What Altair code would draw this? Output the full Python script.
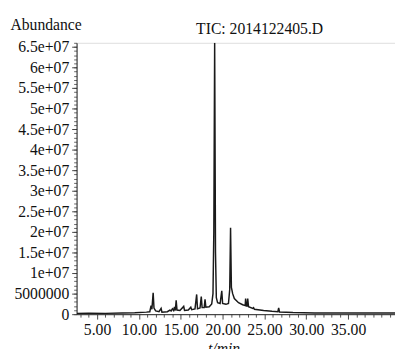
import altair as alt
import pandas as pd

# Retention time (min) and abundance
times = [2.6, 4.0, 6.0, 8.0, 9.5, 10.9, 11.3, 11.45, 11.55, 11.7, 11.8, 12.0, 12.4,
         12.65, 12.75, 13.4, 13.7, 13.85, 14.0, 14.15, 14.25, 14.35, 14.45, 14.55,
         14.9, 15.35, 15.45, 15.9, 16.2, 16.3, 16.7, 16.9, 17.0, 17.3, 17.45, 17.55,
         17.8, 17.9, 18.0, 18.4, 18.7, 18.85, 18.95, 19.05, 19.15, 19.25, 19.4, 19.7,
         19.9, 20.0, 20.4, 20.7, 20.85, 20.95, 21.05, 21.2, 21.4, 21.9, 22.4, 22.7,
         22.75, 22.85, 22.95, 23.0, 23.1, 23.6, 23.7, 23.8, 24.9, 25.9, 26.6, 26.7,
         26.8, 28.4, 31.0, 35.0, 40.6]
abundance = [0.2e6, 0.25e6, 0.2e6, 0.3e6, 0.35e6, 0.5e6, 0.6e6, 2.1e6, 1.2e6, 5.2e6,
             1.5e6, 0.8e6, 0.6e6, 1.4e6, 0.5e6, 0.6e6, 1.0e6, 0.8e6, 1.3e6, 0.9e6,
             1.8e6, 0.9e6, 3.4e6, 1.0e6, 0.9e6, 1.9e6, 0.9e6, 1.0e6, 1.7e6, 1.1e6,
             1.3e6, 4.8e6, 1.3e6, 1.5e6, 4.3e6, 1.6e6, 1.6e6, 3.6e6, 1.7e6, 1.8e6,
             2.5e6, 5.0e6, 20e6, 66e6, 15e6, 4.0e6, 2.8e6, 2.6e6, 5.7e6, 2.6e6,
             2.4e6, 2.6e6, 6.0e6, 21e6, 6.5e6, 5.0e6, 3.8e6, 2.8e6, 2.3e6, 2.1e6,
             3.8e6, 2.0e6, 2.0e6, 3.8e6, 1.8e6, 1.4e6, 1.6e6, 1.2e6, 0.9e6, 0.7e6,
             0.6e6, 1.5e6, 0.55e6, 0.4e6, 0.3e6, 0.3e6, 0.3e6]

x_major = [5, 10, 15, 20, 25, 30, 35]
x_minor = [3, 4, 6, 7, 8, 9, 11, 12, 13, 14, 16, 17, 18, 19, 21, 22, 23, 24, 26, 27,
           28, 29, 31, 32, 33, 34, 36, 37, 38, 39, 40]
y_major = [0, 5e6, 10e6, 15e6, 20e6, 25e6, 30e6, 35e6, 40e6, 45e6, 50e6, 55e6,
           60e6, 65e6]
y_minor = [v * 1e6 for v in range(0, 67)]

df = pd.DataFrame({"t": times, "a": abundance})

FONT = "Liberation Serif, Times New Roman, serif"
xs = alt.Scale(domain=[2.55, 40.6], nice=False, zero=False)
ys = alt.Scale(domain=[0, 66e6], nice=False)

main = alt.Chart(df).mark_line(color="#1a1a1a", strokeWidth=1.5, clip=True).encode(
    x=alt.X("t:Q", scale=xs,
            axis=alt.Axis(orient="bottom", values=x_major, format=".2f", grid=False,
                          tickSize=5, labelPadding=3, tickColor="#444",
                          domainColor="#222", labelFont=FONT, labelFontSize=16,
                          labelColor="#111", labelFlush=False,
                          title="t/min", titleFont=FONT, titleFontSize=16,
                          titleFontWeight="normal", titleFontStyle="italic",
                          titleColor="#111",
                          titleX=150, titleY=40, titleAlign="center",
                          titleBaseline="alphabetic")),
    y=alt.Y("a:Q", scale=ys,
            axis=alt.Axis(orient="left", values=y_major, grid=False, tickSize=5,
                          labelPadding=3, tickColor="#444", domainColor="#222",
                          labelFont=FONT, labelFontSize=16, labelColor="#111",
                          labelFlush=False,
                          labelExpr="datum.value < 1e7 ? format(datum.value, 'd') : replace(format(datum.value, '.2~e'), 'e+', 'e+0')",
                          title="Abundance", titleFont=FONT, titleFontSize=16,
                          titleFontWeight="normal", titleColor="#111",
                          titleAngle=0, titleAlign="left",
                          titleBaseline="alphabetic", titleX=-68, titleY=-14)),
)

minor = alt.Chart(df).mark_line(opacity=0).encode(
    x=alt.X("t:Q", scale=xs,
            axis=alt.Axis(orient="bottom", values=x_minor, labels=False, grid=False,
                          tickSize=3, tickColor="#555", domain=False, title=None)),
    y=alt.Y("a:Q", scale=ys,
            axis=alt.Axis(orient="left", values=y_minor, labels=False, grid=False,
                          tickSize=3, tickColor="#666", domain=False, title=None)),
)

chart = alt.layer(minor, main).resolve_axis(x="independent", y="independent").properties(
    width=325, height=277,
    autosize=alt.AutoSizeParams(type="none"),
    padding={"left": 70, "top": 32, "right": 0, "bottom": 32},
    title=alt.TitleParams("TIC: 2014122405.D", anchor="start", frame="group", dx=122,
                          dy=25, offset=4, font=FONT, fontSize=16, fontWeight="normal",
                          color="#111"),
).configure_view(stroke=None).configure(background="white")

chart.save("out.html", embed_options={"renderer": "svg", "actions": False})
